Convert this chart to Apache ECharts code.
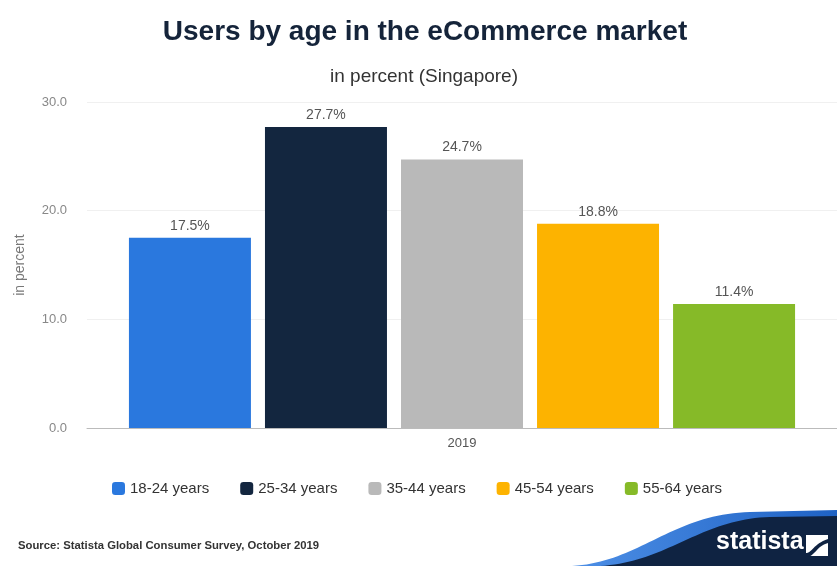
<!DOCTYPE html>
<html>
<head>
<meta charset="utf-8">
<script src="https://cdn.jsdelivr.net/npm/echarts@6/dist/echarts.min.js"></script>
<style>
  html, body { margin: 0; padding: 0; background: #fff; }
  #chart { width: 837px; height: 566px; }
</style>
</head>
<body>
<div id="chart"></div>
<script>
// Share of eCommerce users by age group, Singapore 2019
const categories = ['2019'];
const ageGroups = ['18-24 years', '25-34 years', '35-44 years', '45-54 years', '55-64 years'];
const shares = [17.5, 27.7, 24.7, 18.8, 11.4];
const colors = ['#2a78de', '#13263f', '#b9b9b9', '#fdb300', '#86ba28'];
const yTicks = { min: 0, max: 30, interval: 10 };

const font = 'Liberation Sans, Arial, sans-serif';

// sample a cubic bezier into polygon points (for the footer wave)
function bezierPoints(p0, p1, p2, p3, steps) {
  const pts = [];
  for (let i = 0; i <= steps; i++) {
    const t = i / steps, u = 1 - t;
    pts.push([
      u * u * u * p0[0] + 3 * u * u * t * p1[0] + 3 * u * t * t * p2[0] + t * t * t * p3[0],
      u * u * u * p0[1] + 3 * u * u * t * p1[1] + 3 * u * t * t * p2[1] + t * t * t * p3[1]
    ]);
  }
  return pts;
}
const wavePoints = (p0, p1, p2, p3, endY) =>
  bezierPoints(p0, p1, p2, p3, 40).concat([[837, endY], [837, 566]]);

const series = ageGroups.map((name, i) => ({
  name: name,
  type: 'bar',
  data: [shares[i]],
  barWidth: 122,
  barGap: '11.5%',
  itemStyle: { color: colors[i] },
  label: {
    show: true,
    position: 'top',
    distance: 5,
    formatter: (p) => p.value.toFixed(1) + '%',
    color: '#555',
    fontSize: 14,
    fontFamily: font
  }
}));

const chart = echarts.init(document.getElementById('chart'), null, { renderer: 'canvas' });
chart.setOption({
  animation: false,
  backgroundColor: '#fff',
  color: colors,
  title: [
    {
      text: 'Users by age in the eCommerce market',
      left: 420, top: 13, textAlign: 'center',
      textStyle: { fontFamily: font, fontWeight: 'bold', fontSize: 28, color: '#15243a' }
    },
    {
      text: 'in percent (Singapore)',
      left: 419, top: 62, textAlign: 'center',
      textStyle: { fontFamily: font, fontWeight: 'normal', fontSize: 19, color: '#333' }
    }
  ],
  grid: { left: 87, top: 102, right: 0, bottom: 138, containLabel: false },
  xAxis: {
    type: 'category',
    data: categories,
    axisLine: { show: true, lineStyle: { color: '#bbb', width: 1 } },
    axisTick: { show: false },
    axisLabel: { color: '#555', fontSize: 13, fontFamily: font, margin: 9 }
  },
  yAxis: {
    type: 'value',
    min: yTicks.min, max: yTicks.max, interval: yTicks.interval,
    name: 'in percent',
    nameLocation: 'middle',
    nameGap: 60,
    nameRotate: 90,
    nameTextStyle: { color: '#777', fontSize: 14, fontFamily: font },
    axisLine: { show: false },
    axisTick: { show: false },
    axisLabel: { color: '#888', fontSize: 13, fontFamily: font, margin: 20, formatter: (v) => v.toFixed(1) },
    splitLine: { show: true, lineStyle: { color: '#f0f0f0', width: 1 } }
  },
  legend: {
    data: ageGroups,
    left: 107, top: 476,
    icon: 'roundRect',
    itemWidth: 13, itemHeight: 13,
    itemGap: 31,
    textStyle: { color: '#333', fontSize: 15, fontFamily: font }
  },
  series: series,
  graphic: [
    {
      type: 'text',
      x: 18, y: 540,
      style: {
        text: 'Source: Statista Global Consumer Survey, October 2019',
        fill: '#333', fontSize: 11.3, fontWeight: 'bold', fontFamily: font
      }
    },
    // footer wave
    {
      type: 'polygon',
      shape: { points: wavePoints([572, 566], [640, 562], [672, 514], [750, 512], 510) },
      style: {
        fill: new echarts.graphic.LinearGradient(0, 0, 1, 0, [
          { offset: 0, color: '#4d8fe6' },
          { offset: 1, color: '#1f62c4' }
        ])
      }
    },
    {
      type: 'polygon',
      shape: { points: wavePoints([600, 566], [668, 562], [700, 519], [770, 517], 516) },
      style: { fill: '#0f2342' }
    },
    {
      type: 'text',
      x: 716, y: 530,
      style: {
        text: 'statista',
        fill: '#fff', fontSize: 25, fontWeight: 'bold',
        fontFamily: 'Liberation Sans Narrow, Liberation Sans, Arial, sans-serif'
      }
    },
    {
      type: 'rect',
      shape: { x: 806, y: 535, width: 22, height: 21 },
      style: { fill: '#fff' }
    },
    {
      type: 'polygon',
      shape: {
        points: bezierPoints([806, 553], [812, 553], [813, 544], [828, 539], 16)
          .concat(bezierPoints([828, 543], [816, 546], [815, 557], [806, 557], 16))
      },
      style: { fill: '#0f2342' }
    }
  ]
});
</script>
</body>
</html>
